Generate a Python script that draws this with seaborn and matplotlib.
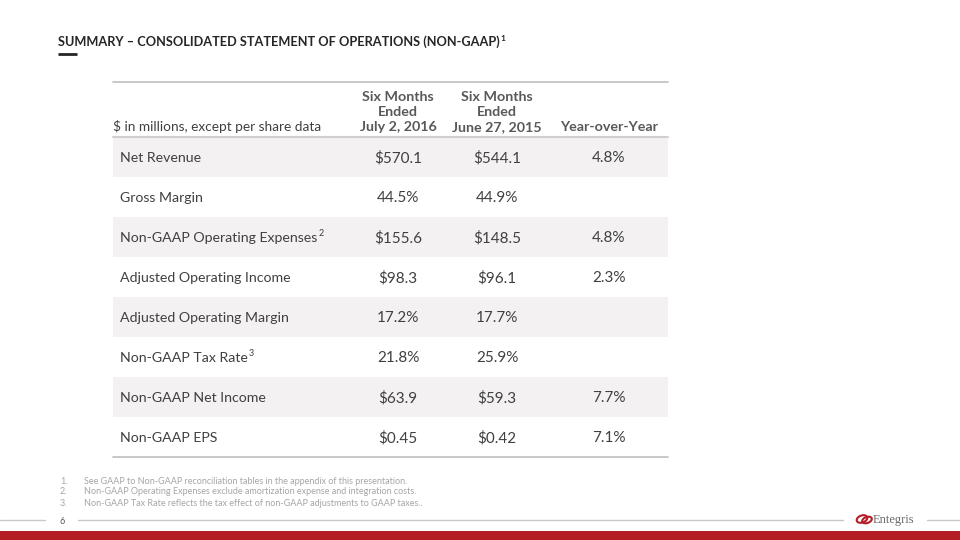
import matplotlib
matplotlib.use("Agg")
import matplotlib.pyplot as plt
import seaborn as sns
from matplotlib.patches import Ellipse

sns.set_style("white")
plt.rcParams['font.family'] = ['Lato', 'DejaVu Sans']

# table data
row_labels = ["Net Revenue", "Gross Margin", "Non-GAAP Operating Expenses", "Adjusted Operating Income",
              "Adjusted Operating Margin", "Non-GAAP Tax Rate", "Non-GAAP Net Income", "Non-GAAP EPS"]
row_sup = ["", "", "2", "", "", "3", "", ""]
h1_2016 = ["$570.1", "44.5%", "$155.6", "$98.3", "17.2%", "21.8%", "$63.9", "$0.45"]
h1_2015 = ["$544.1", "44.9%", "$148.5", "$96.1", "17.7%", "25.9%", "$59.3", "$0.42"]
yoy = ["4.8%", "", "4.8%", "2.3%", "", "", "7.7%", "7.1%"]
col_headers = ["Six Months\nEnded\nJuly 2, 2016", "Six Months\nEnded\nJune 27, 2015", "Year-over-Year"]
footnotes = ["See GAAP to Non-GAAP reconciliation tables in the appendix of this presentation.",
             "Non-GAAP Operating Expenses exclude amortization expense and integration costs.",
             "Non-GAAP Tax Rate reflects the tax effect of non-GAAP adjustments to GAAP taxes.."]

text_col = "#404040"
shade = "#F3F1F1"
red = "#B31E24"

fig = plt.figure(figsize=(9.6, 5.4), dpi=100)
ax = fig.add_axes([0, 0, 1, 1])
ax.set_xlim(0, 960)
ax.set_ylim(540, 0)
ax.axis("off")
renderer = fig.canvas.get_renderer()


def sup_after(t, s, y, size, **kw):
    # put a superscript right after an existing text
    x_end = t.get_window_extent(renderer).x1
    ax.text(x_end + 1, y, s, fontsize=size, va="baseline", **kw)


# title
t = ax.text(58, 46, "SUMMARY – CONSOLIDATED STATEMENT OF OPERATIONS (NON-GAAP)",
            fontsize=9.2, fontweight="bold", color="#262626", va="baseline")
sup_after(t, "1", 41, 6, fontweight="bold", color="#262626")
ax.plot([58, 77], [54, 54], color="#262626", lw=2, solid_capstyle="butt")

# table geometry
x0, x1 = 113, 668
top, head_bot, row_h = 82, 137, 40
col_x = [398, 497, 609]

ax.plot([x0, x1], [top, top], color="#BFBFBF", lw=1.2)
ax.plot([x0, x1], [head_bot, head_bot], color="#D0D0D0", lw=1.5)

ax.text(113, 131, "$ in millions, except per share data", fontsize=9.8, color=text_col, va="baseline")
for cx, h in zip(col_x, col_headers):
    ax.text(cx, 131, h, fontsize=10.3, fontweight="bold", color="#595959",
            ha="center", va="baseline", linespacing=1.3, multialignment="center")

for i, lab in enumerate(row_labels):
    y0 = head_bot + i * row_h
    yb = y0 + row_h / 2 + 5
    if i % 2 == 0:
        ax.fill_between([x0, x1], y0, y0 + row_h, color=shade, lw=0)
    t = ax.text(120, yb, lab, fontsize=10.2, color=text_col, va="baseline")
    if row_sup[i]:
        sup_after(t, row_sup[i], yb - 6, 6.5, color=text_col)
    for cx, v in zip(col_x, [h1_2016[i], h1_2015[i], yoy[i]]):
        ax.text(cx, yb, v, fontsize=11, color=text_col, ha="center", va="baseline")

bottom = head_bot + len(row_labels) * row_h
ax.plot([x0, x1], [bottom, bottom], color="#BFBFBF", lw=1.2)

# footnotes
for i, f in enumerate(footnotes):
    y = 481 + i * 11
    ax.text(60, y, f"{i + 1}.", fontsize=6.5, color="#A6A6A6", va="center")
    ax.text(84, y, f, fontsize=6.5, color="#A6A6A6", va="center")

# footer
ax.plot([0, 45], [520, 520], color="#C8C8C8", lw=1)
ax.plot([78, 843], [520, 520], color="#C8C8C8", lw=1)
ax.plot([927, 960], [520, 520], color="#C8C8C8", lw=1)
ax.text(62, 521, "6", fontsize=6.5, color="#595959", ha="center", va="center")
ax.add_patch(Ellipse((862, 519), 11, 7, angle=-20, fill=False, ec=red, lw=1.5))
ax.add_patch(Ellipse((867, 520), 10, 6, angle=-20, fill=False, ec=red, lw=1.5))
ax.text(873, 520, "Entegris", fontsize=9, family="Liberation Serif", color="#6B6B6B", va="center")
ax.fill_between([0, 960], 531, 540, color=red, lw=0)

fig.savefig("out.png", dpi=100)
